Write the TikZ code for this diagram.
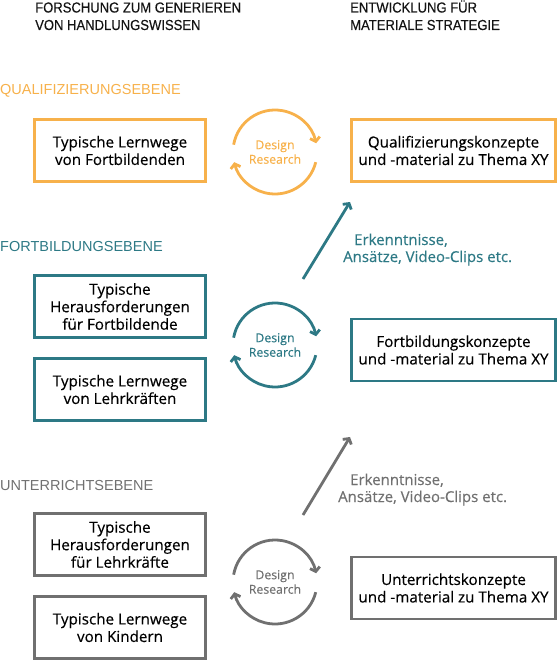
\documentclass[tikz,border=0pt]{standalone}
\usepackage{fontspec}
\setmainfont{Open Sans}[FakeBold=0.35]
\newfontfamily\headfont{Liberation Sans}
\newfontfamily\kopffont{Liberation Sans}[FakeStretch=0.9,FakeBold=0.3]
\usetikzlibrary{arrows.meta}
\definecolor{qcol}{HTML}{F7B14B}
\definecolor{fcol}{HTML}{2D7985}
\definecolor{ucol}{HTML}{707070}
\definecolor{headcol}{HTML}{141414}
\tikzset{
  ebox/.style={draw=#1, line width=2.8pt, minimum width=171pt, minimum height=62pt,
    align=center, inner sep=2pt, font=\fontsize{15.2}{17.5}\selectfont},
  zielbox/.style={ebox=#1, minimum width=204pt},
  ebene/.style={text=#1, anchor=base west, inner sep=0pt, font=\headfont\fontsize{14.5}{17.5}\selectfont},
  kopf/.style={ebene=#1, align=left, font=\kopffont\fontsize{14.5}{17.5}\selectfont},
  zyklus/.style={circle, minimum size=84pt, inner sep=0pt, outer sep=0pt, align=center,
    text=#1, font=\fontsize{12.3}{14.5}\selectfont},
  kreispfeil/.style={draw=#1, line width=2.8pt, -{Straight Barb[length=4pt,width=10pt]}},
  transfer/.style={draw=#1, line width=2.8pt, -{Straight Barb[length=4pt,width=10pt]}},
  ertrag/.style={text=#1, anchor=base west, inner sep=0pt, align=left, font=\fontsize{15}{17}\selectfont}
}
\begin{document}
\begin{tikzpicture}[x=1pt,y=1pt]
    \useasboundingbox (0,0) rectangle (558,-661);
    % spaltenkoepfe
    \node[kopf=headcol] (kopfl) at (35,-30) {FORSCHUNG ZUM GENERIEREN\\VON HANDLUNGSWISSEN};
    \node[kopf=headcol] (kopfr) at (350,-30) {ENTWICKLUNG FÜR\\MATERIALE STRATEGIE};
    % qualifizierungsebene
    \node[ebene=qcol] (qlabel) at (0,-95) {QUALIFIZIERUNGSEBENE};
    \node[ebox=qcol] (qlern) at (120,-150.5) {Typische Lernwege\\von Fortbildenden};
    \node[zyklus=qcol] (qzyklus) at (275,-152) {Design\\Research};
    \node[zielbox=qcol] (qziel) at (453.5,-150.5) {Qualifizierungskonzepte\\und -material zu Thema XY};
    \draw[kreispfeil=qcol] (qzyklus.170) arc[start angle=170, end angle=12, radius=42pt];
    \draw[kreispfeil=qcol] (qzyklus.-14) arc[start angle=-14, end angle=-166, radius=42pt];
    % fortbildungsebene
    \node[ebene=fcol] (flabel) at (0,-251) {FORTBILDUNGSEBENE};
    \node[ebox=fcol] (fheraus) at (120,-306.5) {Typische\\Herausforderungen\\für Fortbildende};
    \node[ebox=fcol] (flern) at (120,-389.5) {Typische Lernwege\\von Lehrkräften};
    \node[zyklus=fcol] (fzyklus) at (275,-345) {Design\\Research};
    \node[zielbox=fcol] (fziel) at (453.5,-350) {Fortbildungskonzepte\\und -material zu Thema XY};
    \draw[kreispfeil=fcol] (fzyklus.170) arc[start angle=170, end angle=12, radius=42pt];
    \draw[kreispfeil=fcol] (fzyklus.-14) arc[start angle=-14, end angle=-166, radius=42pt];
    \coordinate (fstart) at (303,-279);
    \coordinate (fende) at (350,-202);
    \draw[transfer=fcol] (fstart) -- (fende);
    \node[ertrag=fcol] (fertrag) at (343,-262) {\hspace*{11pt}Erkenntnisse,\\Ansätze, Video-Clips etc.};
    % unterrichtsebene
    \node[ebene=ucol] (ulabel) at (0,-490) {UNTERRICHTSEBENE};
    \node[ebox=ucol] (uheraus) at (120,-544.5) {Typische\\Herausforderungen\\für Lehrkräfte};
    \node[ebox=ucol] (ulern) at (120,-627.5) {Typische Lernwege\\von Kindern};
    \node[zyklus=ucol] (uzyklus) at (275,-582) {Design\\Research};
    \node[zielbox=ucol] (uziel) at (453.5,-588) {Unterrichtskonzepte\\und -material zu Thema XY};
    \draw[kreispfeil=ucol] (uzyklus.170) arc[start angle=170, end angle=12, radius=42pt];
    \draw[kreispfeil=ucol] (uzyklus.-14) arc[start angle=-14, end angle=-166, radius=42pt];
    \coordinate (ustart) at (303,-515);
    \coordinate (uende) at (350,-437);
    \draw[transfer=ucol] (ustart) -- (uende);
    \node[ertrag=ucol] (uertrag) at (338,-502) {\hspace*{12pt}Erkenntnisse,\\Ansätze, Video-Clips etc.};
\end{tikzpicture}
\end{document}
